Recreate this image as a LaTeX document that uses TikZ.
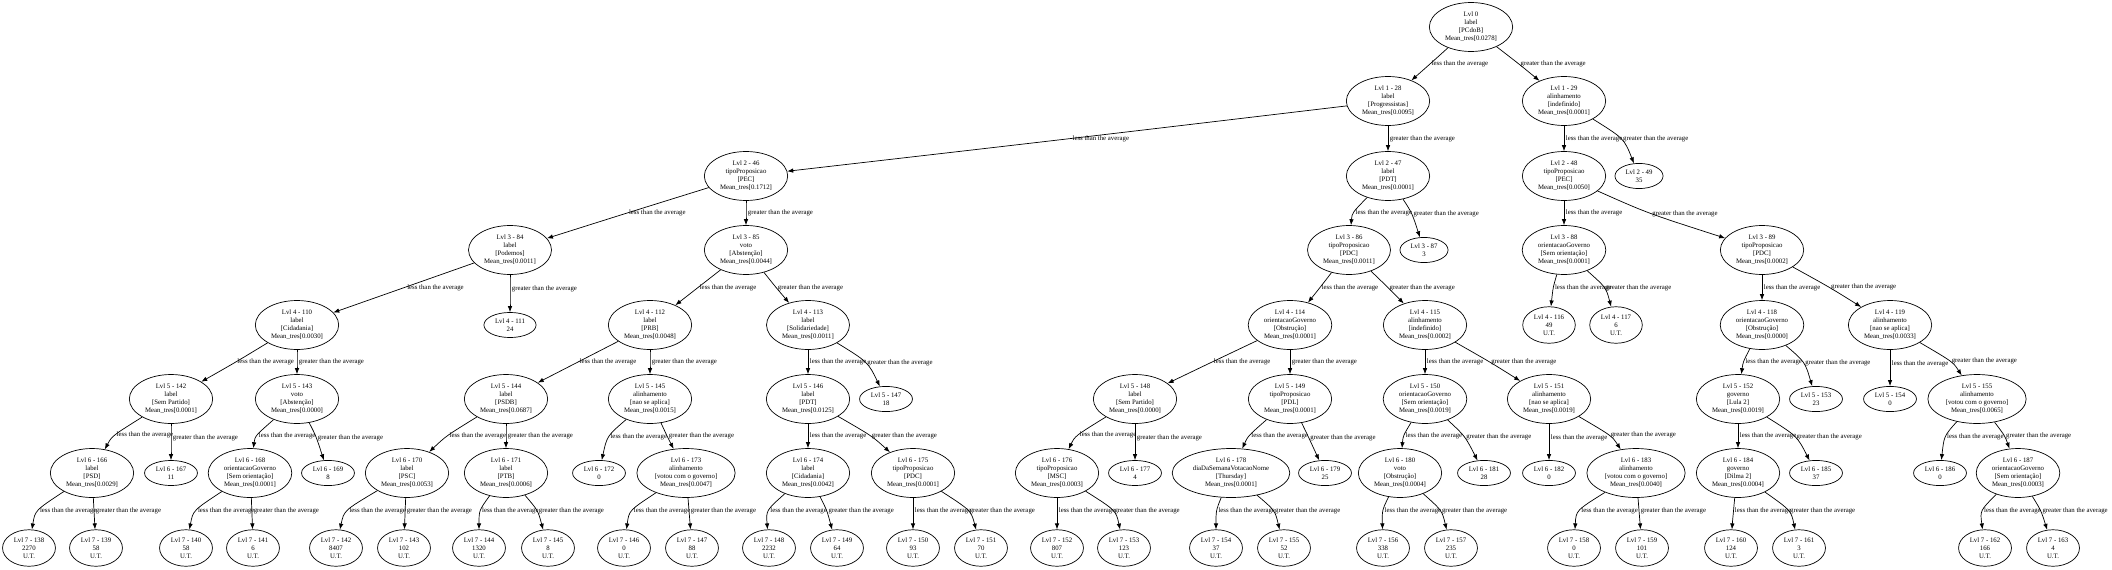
\documentclass[tikz,border=0pt]{standalone}
\usepackage{fontspec}
\setmainfont{Liberation Serif}
\usetikzlibrary{shapes.geometric,arrows.meta}

\begin{document}
\begin{tikzpicture}[x=1pt, y=-1pt,
  split/.style={draw, ellipse, line width=0.7pt, align=center, inner xsep=3.5pt, inner ysep=2.5pt, font=\fontsize{6.8}{8}\selectfont},
  leaf/.style={split},
  edge/.style={line width=0.7pt, >={Latex[length=6pt,width=4.5pt]}, ->},
  lbl/.style={midway, anchor=west, inner sep=1.5pt, font=\fontsize{6.8}{8}\selectfont}]

\useasboundingbox (0,0) rectangle (2112,570);

% level 0 and 1
\node[split] (l0) at (1471,27) {Lvl 0\\label\\{[PCdoB]}\\Mean\_tres[0.0278]};
\node[split] (l1-28) at (1388,101) {Lvl 1 - 28\\label\\{[Progressistas]}\\Mean\_tres[0.0095]};
\node[split] (l1-29) at (1564,101) {Lvl 1 - 29\\alinhamento\\{[indefinido]}\\Mean\_tres[0.0001]};

% level 2
\node[split] (l2-46) at (746,176) {Lvl 2 - 46\\tipoProposicao\\{[PEC]}\\Mean\_tres[0.1712]};
\node[split] (l2-47) at (1388,176) {Lvl 2 - 47\\label\\{[PDT]}\\Mean\_tres[0.0001]};
\node[split] (l2-48) at (1564,176) {Lvl 2 - 48\\tipoProposicao\\{[PEC]}\\Mean\_tres[0.0050]};
\node[leaf] (l2-49) at (1639,176) {Lvl 2 - 49\\35};

% level 3
\node[split] (l3-84) at (510,250) {Lvl 3 - 84\\label\\{[Podemos]}\\Mean\_tres[0.0011]};
\node[split] (l3-85) at (746,250) {Lvl 3 - 85\\voto\\{[Abstenção]}\\Mean\_tres[0.0044]};
\node[split] (l3-86) at (1349,250) {Lvl 3 - 86\\tipoProposicao\\{[PDC]}\\Mean\_tres[0.0011]};
\node[leaf] (l3-87) at (1424,250) {Lvl 3 - 87\\3};
\node[split] (l3-88) at (1564,250) {Lvl 3 - 88\\orientacaoGoverno\\{[Sem orientação]}\\Mean\_tres[0.0001]};
\node[split] (l3-89) at (1762,250) {Lvl 3 - 89\\tipoProposicao\\{[PDC]}\\Mean\_tres[0.0002]};

% level 4
\node[split] (l4-110) at (297,325) {Lvl 4 - 110\\label\\{[Cidadania]}\\Mean\_tres[0.0030]};
\node[leaf] (l4-111) at (510,325) {Lvl 4 - 111\\24};
\node[split] (l4-112) at (650,325) {Lvl 4 - 112\\label\\{[PRB]}\\Mean\_tres[0.0048]};
\node[split] (l4-113) at (808,325) {Lvl 4 - 113\\label\\{[Solidariedade]}\\Mean\_tres[0.0011]};
\node[split] (l4-114) at (1290,325) {Lvl 4 - 114\\orientacaoGoverno\\{[Obstrução]}\\Mean\_tres[0.0001]};
\node[split] (l4-115) at (1425,325) {Lvl 4 - 115\\alinhamento\\{[indefinido]}\\Mean\_tres[0.0002]};
\node[leaf] (l4-116) at (1549,325) {Lvl 4 - 116\\49\\U.T.};
\node[leaf] (l4-117) at (1616,325) {Lvl 4 - 117\\6\\U.T.};
\node[split] (l4-118) at (1762,325) {Lvl 4 - 118\\orientacaoGoverno\\{[Obstrução]}\\Mean\_tres[0.0000]};
\node[split] (l4-119) at (1890,325) {Lvl 4 - 119\\alinhamento\\{[nao se aplica]}\\Mean\_tres[0.0033]};

% level 5
\node[split] (l5-142) at (171,399) {Lvl 5 - 142\\label\\{[Sem Partido]}\\Mean\_tres[0.0001]};
\node[split] (l5-143) at (297,399) {Lvl 5 - 143\\voto\\{[Abstenção]}\\Mean\_tres[0.0000]};
\node[split] (l5-144) at (506,399) {Lvl 5 - 144\\label\\{[PSDB]}\\Mean\_tres[0.0687]};
\node[split] (l5-145) at (650,399) {Lvl 5 - 145\\alinhamento\\{[nao se aplica]}\\Mean\_tres[0.0015]};
\node[split] (l5-146) at (808,399) {Lvl 5 - 146\\label\\{[PDT]}\\Mean\_tres[0.0125]};
\node[leaf] (l5-147) at (886,399) {Lvl 5 - 147\\18};
\node[split] (l5-148) at (1135,399) {Lvl 5 - 148\\label\\{[Sem Partido]}\\Mean\_tres[0.0000]};
\node[split] (l5-149) at (1290,399) {Lvl 5 - 149\\tipoProposicao\\{[PDL]}\\Mean\_tres[0.0001]};
\node[split] (l5-150) at (1425,399) {Lvl 5 - 150\\orientacaoGoverno\\{[Sem orientação]}\\Mean\_tres[0.0019]};
\node[split] (l5-151) at (1549,399) {Lvl 5 - 151\\alinhamento\\{[nao se aplica]}\\Mean\_tres[0.0019]};
\node[split] (l5-152) at (1738,399) {Lvl 5 - 152\\governo\\{[Lula 2]}\\Mean\_tres[0.0019]};
\node[leaf] (l5-153) at (1816,399) {Lvl 5 - 153\\23};
\node[leaf] (l5-154) at (1890,399) {Lvl 5 - 154\\0};
\node[split] (l5-155) at (1977,399) {Lvl 5 - 155\\alinhamento\\{[votou com o governo]}\\Mean\_tres[0.0065]};

% level 6
\node[split] (l6-166) at (92,473) {Lvl 6 - 166\\label\\{[PSD]}\\Mean\_tres[0.0029]};
\node[leaf] (l6-167) at (171,473) {Lvl 6 - 167\\11};
\node[split] (l6-168) at (250,473) {Lvl 6 - 168\\orientacaoGoverno\\{[Sem orientação]}\\Mean\_tres[0.0001]};
\node[leaf] (l6-169) at (328,473) {Lvl 6 - 169\\8};
\node[split] (l6-170) at (407,473) {Lvl 6 - 170\\label\\{[PSC]}\\Mean\_tres[0.0053]};
\node[split] (l6-171) at (506,473) {Lvl 6 - 171\\label\\{[PTB]}\\Mean\_tres[0.0006]};
\node[leaf] (l6-172) at (599,473) {Lvl 6 - 172\\0};
\node[split] (l6-173) at (686,473) {Lvl 6 - 173\\alinhamento\\{[votou com o governo]}\\Mean\_tres[0.0047]};
\node[split] (l6-174) at (808,473) {Lvl 6 - 174\\label\\{[Cidadania]}\\Mean\_tres[0.0042]};
\node[split] (l6-175) at (913,473) {Lvl 6 - 175\\tipoProposicao\\{[PDC]}\\Mean\_tres[0.0001]};
\node[split] (l6-176) at (1057,473) {Lvl 6 - 176\\tipoProposicao\\{[MSC]}\\Mean\_tres[0.0003]};
\node[leaf] (l6-177) at (1135,473) {Lvl 6 - 177\\4};
\node[split] (l6-178) at (1231,473) {Lvl 6 - 178\\diaDaSemanaVotacaoNome\\{[Thursday]}\\Mean\_tres[0.0001]};
\node[leaf] (l6-179) at (1325,473) {Lvl 6 - 179\\25};
\node[split] (l6-180) at (1400,473) {Lvl 6 - 180\\voto\\{[Obstrução]}\\Mean\_tres[0.0004]};
\node[leaf] (l6-181) at (1484,473) {Lvl 6 - 181\\28};
\node[leaf] (l6-182) at (1549,473) {Lvl 6 - 182\\0};
\node[split] (l6-183) at (1636,473) {Lvl 6 - 183\\alinhamento\\{[votou com o governo]}\\Mean\_tres[0.0040]};
\node[split] (l6-184) at (1738,473) {Lvl 6 - 184\\governo\\{[Dilma 2]}\\Mean\_tres[0.0004]};
\node[leaf] (l6-185) at (1816,473) {Lvl 6 - 185\\37};
\node[leaf] (l6-186) at (1940,473) {Lvl 6 - 186\\0};
\node[split] (l6-187) at (2018,473) {Lvl 6 - 187\\orientacaoGoverno\\{[Sem orientação]}\\Mean\_tres[0.0003]};

% level 7
\foreach \n/\x/\v in {138/29/2270, 139/96/58, 140/186/58, 141/253/6, 142/336/8407, 143/404/102,
    144/479/1320, 145/548/8, 146/624/0, 147/692/88, 148/769/2232, 149/837/64, 150/913/93,
    151/981/70, 152/1057/807, 153/1124/123, 154/1216/37, 155/1284/52, 156/1383/338,
    157/1451/235, 158/1574/0, 159/1642/101, 160/1731/124, 161/1799/3, 162/1985/166, 163/2053/4} {
    \node[leaf] (l7-\n) at (\x,548) {Lvl 7 - \n\\\v\\U.T.};
}

% edges, level by level
\foreach \p/\c/\w/\s in {l0/l1-28/1430/less, l0/l1-29/1519/greater} {
    \draw[edge] (\p) .. controls (\w,64) .. (\c) node[lbl] {\s\ than the average};
}
\foreach \p/\c/\w/\s in {l1-28/l2-46/1072/less, l1-28/l2-47/1388/greater, l1-29/l2-48/1564/less, l1-29/l2-49/1624/greater} {
    \draw[edge] (\p) .. controls (\w,138.5) .. (\c) node[lbl] {\s\ than the average};
}
\foreach \p/\c/\w/\s in {l2-46/l3-84/627/less, l2-46/l3-85/746/greater, l2-47/l3-86/1352/less, l2-47/l3-87/1412/greater,
    l2-48/l3-88/1564/less, l2-48/l3-89/1647/greater} {
    \draw[edge] (\p) .. controls (\w,213) .. (\c) node[lbl] {\s\ than the average};
}
\foreach \p/\c/\w/\s in {l3-84/l4-110/406/less, l3-84/l4-111/510/greater, l3-85/l4-112/698/less, l3-85/l4-113/776/greater,
    l3-86/l4-114/1320/less, l3-86/l4-115/1388/greater, l3-88/l4-116/1553/less, l3-88/l4-117/1606/greater,
    l3-89/l4-118/1762/less, l3-89/l4-119/1830/greater} {
    \draw[edge] (\p) .. controls (\w,287.5) .. (\c) node[lbl] {\s\ than the average};
}
\foreach \p/\c/\w/\s in {l4-110/l5-142/236/less, l4-110/l5-143/297/greater, l4-112/l5-144/578/less, l4-112/l5-145/650/greater,
    l4-113/l5-146/808/less, l4-113/l5-147/868/greater, l4-114/l5-148/1212/less, l4-114/l5-149/1290/greater,
    l4-115/l5-150/1425/less, l4-115/l5-151/1490/greater, l4-118/l5-152/1743/less, l4-118/l5-153/1805/greater,
    l4-119/l5-154/1890/less, l4-119/l5-155/1953/greater} {
    \draw[edge] (\p) .. controls (\w,362) .. (\c) node[lbl] {\s\ than the average};
}
\foreach \p/\c/\w/\s in {l5-142/l6-166/112/less, l5-142/l6-167/171/greater, l5-143/l6-168/255/less, l5-143/l6-169/316/greater,
    l5-144/l6-170/446/less, l5-144/l6-171/506/greater, l5-145/l6-172/607/less, l5-145/l6-173/667/greater,
    l5-146/l6-174/808/less, l5-146/l6-175/872/greater, l5-148/l6-176/1075/less, l5-148/l6-177/1135/greater,
    l5-149/l6-178/1248/less, l5-149/l6-179/1308/greater, l5-150/l6-180/1403/less, l5-150/l6-181/1465/greater,
    l5-151/l6-182/1549/less, l5-151/l6-183/1612/greater, l5-152/l6-184/1738/less, l5-152/l6-185/1797/greater,
    l5-155/l6-186/1944/less, l5-155/l6-187/2005/greater} {
    \draw[edge] (\p) .. controls (\w,436) .. (\c) node[lbl] {\s\ than the average};
}
\foreach \p/\c/\w/\s in {l6-166/l7-138/35/less, l6-166/l7-139/94/greater, l6-168/l7-140/193/less, l6-168/l7-141/252/greater,
    l6-170/l7-142/344/less, l6-170/l7-143/405/greater, l6-171/l7-144/479/less, l6-171/l7-145/538/greater,
    l6-173/l7-146/629/less, l6-173/l7-147/689/greater, l6-174/l7-148/766/less, l6-174/l7-149/827/greater,
    l6-175/l7-150/913/less, l6-175/l7-151/971/greater, l6-176/l7-152/1057/less, l6-176/l7-153/1116/greater,
    l6-178/l7-154/1216/less, l6-178/l7-155/1275/greater, l6-180/l7-156/1382/less, l6-180/l7-157/1442/greater,
    l6-183/l7-158/1576/less, l6-183/l7-159/1639/greater, l6-184/l7-160/1733/less, l6-184/l7-161/1791/greater,
    l6-187/l7-162/1980/less, l6-187/l7-163/2041/greater} {
    \draw[edge] (\p) .. controls (\w,510.5) .. (\c) node[lbl] {\s\ than the average};
}

\end{tikzpicture}
\end{document}
